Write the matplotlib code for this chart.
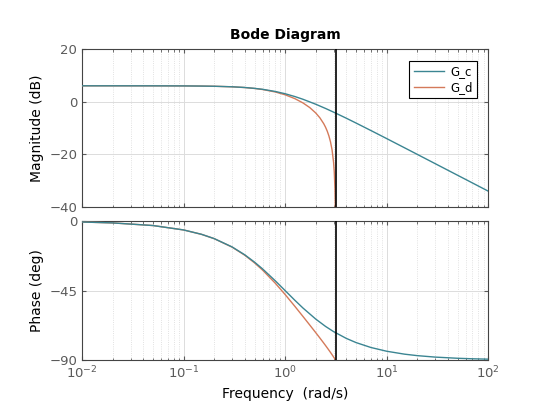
import numpy as np
import matplotlib
matplotlib.use('Agg')
import matplotlib.pyplot as plt
from matplotlib.ticker import LogLocator, NullFormatter

# frequency points (rad/s)
w_c = [0.01, 0.02, 0.05, 0.1, 0.15, 0.2, 0.3, 0.4, 0.5, 0.6, 0.8, 1.0, 1.25, 1.5,
       2.0, 2.5, 3.0, 4.0, 5.0, 7.0, 10, 15, 20, 30, 50, 70, 100]
mag_c = [6.02, 6.02, 6.01, 5.98, 5.92, 5.85, 5.65, 5.38, 5.05, 4.69, 3.87, 3.01, 1.93, 0.90,
         -0.97, -2.58, -3.98, -6.28, -8.13, -10.97, -14.02, -17.52, -20.01, -23.53, -27.96, -30.88, -33.98]
phase_c = [-0.57, -1.15, -2.86, -5.71, -8.53, -11.31, -16.70, -21.80, -26.57, -30.96, -38.66, -45.0,
           -51.34, -56.31, -63.43, -68.20, -71.57, -75.96, -78.69, -81.87, -84.29, -86.19, -87.14,
           -88.09, -88.85, -89.18, -89.43]

w_d = [0.01, 0.02, 0.05, 0.1, 0.15, 0.2, 0.3, 0.4, 0.5, 0.6, 0.8, 1.0, 1.25, 1.5, 1.75,
       2.0, 2.2, 2.4, 2.5, 2.6, 2.7, 2.8, 2.9, 3.0, 3.05, 3.1, 3.12, 3.13, 3.14]
mag_d = [6.02, 6.02, 6.01, 5.98, 5.92, 5.85, 5.64, 5.36, 5.01, 4.61, 3.68, 2.61, 1.13, -0.49, -2.26,
         -4.28, -6.14, -8.37, -9.69, -11.21, -13.03, -15.30, -18.33, -22.99, -26.78, -33.64, -39.33,
         -44.7, -62.0]
phase_d = [-0.57, -1.15, -2.86, -5.72, -8.56, -11.35, -16.82, -22.07, -27.06, -31.74, -40.22, -47.54,
           -55.28, -61.78, -67.34, -72.20, -75.72, -79.00, -80.57, -82.10, -83.60, -85.07, -86.53,
           -87.97, -88.69, -89.40, -89.69, -89.83, -89.98]

w_nyq = 3.1416
c_col = '#3b8592'
d_col = '#d47a5a'
tick_col = '#5a5a5a'

fig = plt.figure(figsize=(5.4, 4.05), dpi=100)
ax1 = fig.add_axes([0.152, 0.489, 0.752, 0.390])
ax2 = fig.add_axes([0.152, 0.111, 0.752, 0.343])

for ax in (ax1, ax2):
    ax.set_xscale('log')
    ax.set_xlim(0.01, 100)
    ax.grid(True, which='major', color='#dcdcdc', lw=0.7)
    ax.grid(True, which='minor', color='#d8d8d8', lw=0.6, ls=':')
    ax.xaxis.set_minor_locator(LogLocator(base=10, subs=np.arange(2, 10)))
    ax.xaxis.set_minor_formatter(NullFormatter())
    ax.tick_params(which='both', direction='in', top=True, right=True,
                   colors=tick_col, labelsize=9.5)
    ax.tick_params(which='major', length=3)
    ax.tick_params(which='minor', length=1.8)
    for s in ax.spines.values():
        s.set_color('#444444')
        s.set_linewidth(0.8)
    ax.axvline(w_nyq, color='black', lw=1.2, zorder=5)

ax1.plot(w_d, mag_d, color=d_col, lw=1.0, label='G_d', zorder=3)
ax1.plot(w_c, mag_c, color=c_col, lw=1.0, label='G_c', zorder=3)
ax1.set_ylim(-40, 20)
ax1.set_yticks([-40, -20, 0, 20])
ax1.set_xticklabels([])
ax1.set_ylabel('Magnitude (dB)', fontsize=10)
ax1.set_title('Bode Diagram', fontsize=10, fontweight='bold', pad=7)
h, l = ax1.get_legend_handles_labels()
leg = ax1.legend(h[::-1], l[::-1], loc='upper right', bbox_to_anchor=(0.972, 0.925),
                 fontsize=8.5, fancybox=False, edgecolor='black',
                 handlelength=2.6, handletextpad=0.5, borderpad=0.35, labelspacing=0.25,
                 borderaxespad=0, framealpha=1)
leg.get_frame().set_linewidth(0.8)

ax2.plot(w_d, phase_d, color=d_col, lw=1.0, zorder=3)
ax2.plot(w_c, phase_c, color=c_col, lw=1.0, zorder=3)
ax2.set_ylim(-90, 0)
ax2.set_yticks([-90, -45, 0])
ax2.set_ylabel('Phase (deg)', fontsize=10)
ax2.set_xlabel('Frequency  (rad/s)', fontsize=10)

fig.savefig('out.png', dpi=100)
